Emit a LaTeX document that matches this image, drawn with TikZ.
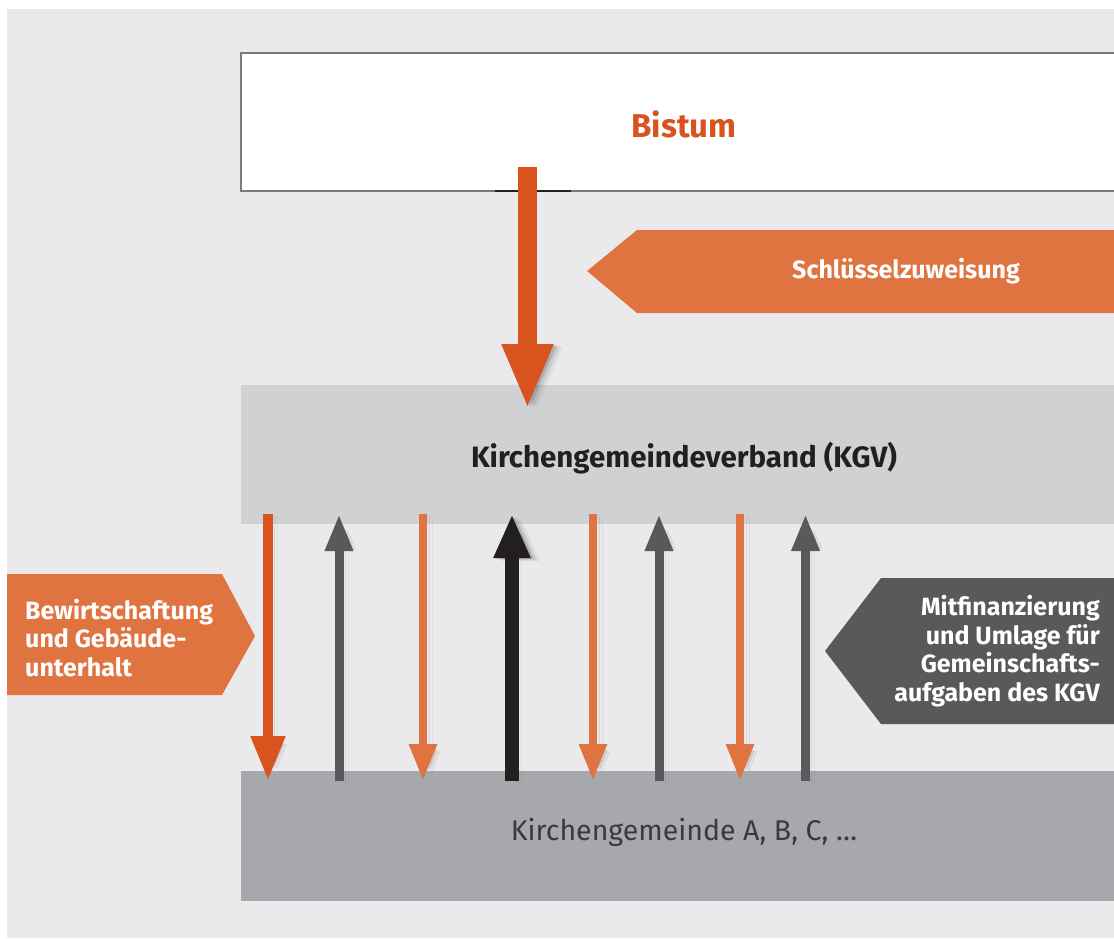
\documentclass[tikz,border=0pt]{standalone}
\usepackage{fontspec}
\setmainfont{Fira Sans}
\usetikzlibrary{arrows.meta}
\definecolor{bg}{HTML}{EAEAEC}
\definecolor{dorange}{HTML}{D9531E}
\definecolor{lorange}{HTML}{E07441}
\definecolor{dgray}{HTML}{58595B}
\definecolor{blk}{HTML}{231F20}
\definecolor{kgvband}{HTML}{D0D1D3}
\definecolor{botband}{HTML}{A7A8AB}
\definecolor{bordergray}{HTML}{7A7A7A}
\definecolor{txtgray}{HTML}{3A3A3C}
\tikzset{
  shd/.style={
    preaction={draw=black,opacity=0.12,transform canvas={xshift=3pt,yshift=-1pt}},
    preaction={draw=black,opacity=0.08,transform canvas={xshift=6pt,yshift=-2pt}},
    preaction={draw=black,opacity=0.05,transform canvas={xshift=9pt,yshift=-3pt}}},
  bigdown/.style={shd, draw=dorange, line width=19pt, -{Triangle[width=47pt,length=65pt]}},
  downbig/.style={shd, draw=dorange, line width=10.5pt, -{Triangle[width=32pt,length=45pt]}},
  downsmall/.style={shd, draw=lorange, line width=8.5pt, -{Triangle[width=26pt,length=37pt]}},
  upgray/.style={shd, draw=dgray, line width=9pt, -{Triangle[width=26pt,length=37pt]}},
  upblack/.style={shd, draw=blk, line width=14pt, -{Triangle[width=34pt,length=44pt]}},
  lbl/.style={text=white, font=\bfseries\fontsize{25}{28.5}\selectfont, inner sep=0pt},
}
\begin{document}
\begin{tikzpicture}[x=1pt,y=-1pt]
\useasboundingbox (0,0) rectangle (1114,938);
% background
\fill[bg] (7,9) rectangle (1114,938);
% Bistum box
\fill[white] (241,53) rectangle (1114,191);
\draw[bordergray, line width=1.2pt] (1114,53) -- (241,53) -- (241,191) -- (1114,191);
\draw[blk, line width=2pt] (495,191) -- (571,191);
\node[text=dorange, font=\bfseries\fontsize{33}{38}\selectfont, inner sep=0pt] (bistum) at (684,124) {Bistum};
% KGV band
\fill[kgvband] (241,385) rectangle (1114,524);
\node[text=blk, font=\bfseries\fontsize{29.5}{34}\selectfont, inner sep=0pt] (kgv) at (684,458) {Kirchengemeindeverband (KGV)};
% bottom band
\fill[botband] (241,771) rectangle (1114,901);
\node[text=txtgray, font=\fontsize{28.5}{33}\selectfont, inner sep=0pt] (kg) at (684,832) {Kirchengemeinde A, B, C, \dots};
% Schluesselzuweisung
\fill[lorange] (587,271) -- (637,230) -- (1114,230) -- (1114,313) -- (637,313) -- cycle;
\node[lbl] (schl) at (906,271) {Schlüsselzuweisung};
% left label
\fill[lorange] (7,574) -- (222,574) -- (255,636) -- (222,695) -- (7,695) -- cycle;
\node[lbl, align=left, anchor=west] (bew) at (25,638) {Bewirtschaftung\\und Gebäude-\\unterhalt};
% right label
\fill[dgray] (825,651) -- (881,578) -- (1114,578) -- (1114,724) -- (881,724) -- cycle;
\node[lbl, align=right, anchor=east] (mit) at (1100,651) {Mitfinanzierung\\und Umlage für\\Gemeinschafts-\\aufgaben des KGV};
% big arrow
\coordinate (bt) at (527.5,167);
\coordinate (kt) at (527.5,409);
\draw[bigdown] (bt) -- (kt);
% vertical arrows
\foreach \x/\n in {268/1,339/2,423/3,512/4,593/5,659/6,740/7,805.5/8}{
  \coordinate (t\n) at (\x,514);
  \coordinate (b\n) at (\x,781);
}
\draw[downbig] (t1) -- (b1);
\draw[upgray] (b2) -- (t2);
\draw[downsmall] (t3) -- (b3);
\draw[upblack] (b4) -- (t4);
\draw[downsmall] (t5) -- (b5);
\draw[upgray] (b6) -- (t6);
\draw[downsmall] (t7) -- (b7);
\draw[upgray] (b8) -- (t8);
\end{tikzpicture}
\end{document}
